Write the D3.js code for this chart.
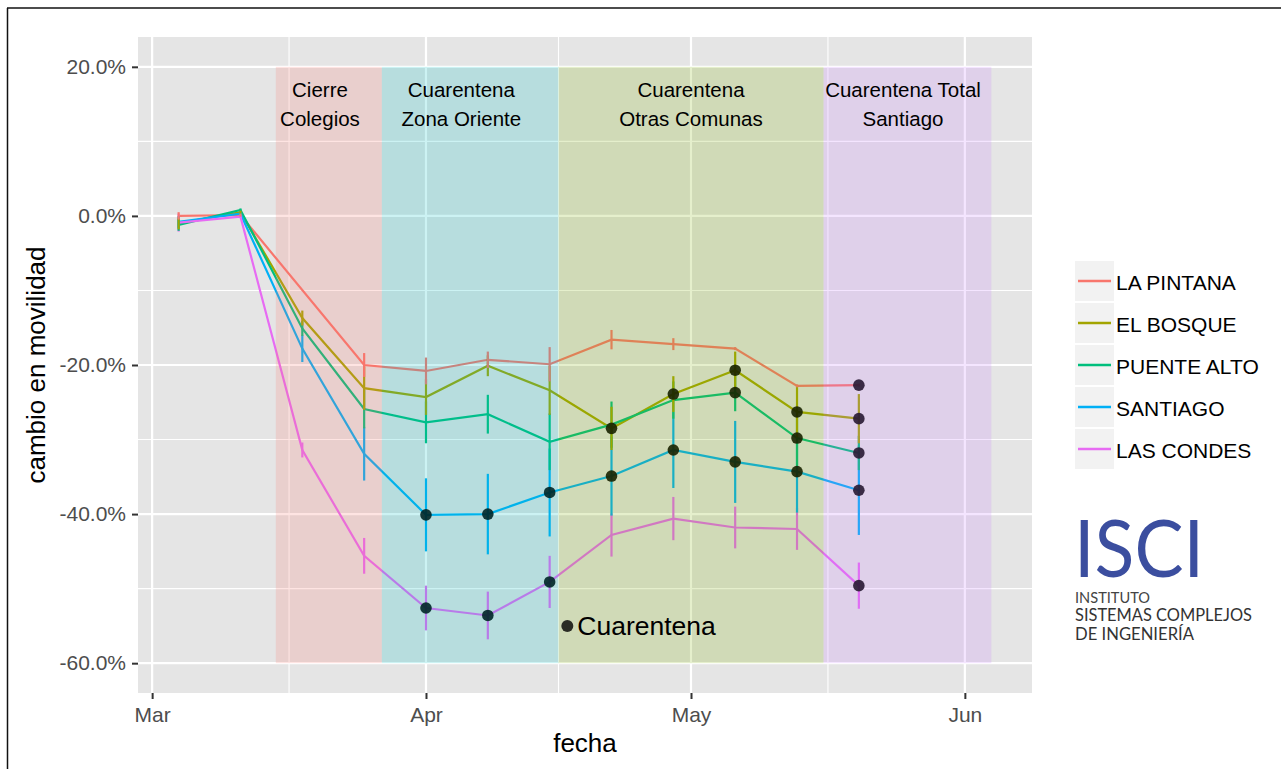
<!DOCTYPE html>
<html>
<head>
<meta charset="utf-8">
<script src="https://cdn.jsdelivr.net/npm/d3@7"></script>
<style>
    body { margin: 0; background: #fff; }
    svg { display: block; font-family: "Liberation Sans", Arial, Helvetica, sans-serif; }
</style>
</head>
<body>
<div id="chart"></div>
<script>
var fechas = ["2020-03-04", "2020-03-11", "2020-03-18", "2020-03-25", "2020-04-01", "2020-04-08",
    "2020-04-15", "2020-04-22", "2020-04-29", "2020-05-06", "2020-05-13", "2020-05-20"];

var comunas = ["LA PINTANA", "EL BOSQUE", "PUENTE ALTO", "SANTIAGO", "LAS CONDES"];
var colores = ["#F8766D", "#A3A500", "#00BF7D", "#00B0F6", "#E76BF3"];

// cambio en movilidad (%)
var laPintana  = [0.0, 0.1, null, -20.0, -20.8, -19.3, -19.9, -16.6, -17.2, -17.8, -22.8, -22.7];
var elBosque   = [-1.0, 0.5, -13.7, -23.1, -24.3, -20.1, -23.4, -28.5, -23.9, -20.7, -26.3, -27.2];
var puenteAlto = [-1.2, 0.8, -15.1, -25.9, -27.7, -26.6, -30.3, -28.0, -24.7, -23.7, -29.8, -31.8];
var santiago   = [-0.8, 0.3, -17.8, -31.9, -40.1, -40.0, -37.1, -34.9, -31.4, -33.0, -34.3, -36.8];
var lasCondes  = [-0.9, -0.1, -31.4, -45.6, -52.6, -53.6, -49.1, -42.8, -40.6, -41.8, -42.0, -49.6];

// error (+/-)
var errLaPintana  = [0.5, 0.2, null, 1.6, 1.8, 1.1, 2.3, 1.3, 0.8, 0.2, 0.2, 0.2];
var errElBosque   = [0.8, 0.2, 1.0, 2.9, 2.4, 1.4, 3.3, 2.9, 2.4, 2.5, 3.4, 3.3];
var errPuenteAlto = [0.8, 0.2, 1.0, 2.6, 2.8, 2.6, 3.8, 3.1, 2.5, 2.5, 3.8, 2.3];
var errSantiago   = [0.8, 0.2, 1.8, 3.6, 4.9, 5.4, 5.9, 5.3, 5.1, 5.5, 5.5, 6.0];
var errLasCondes  = [1.2, 0.2, 1.0, 2.4, 3.0, 3.2, 3.5, 2.9, 2.9, 2.8, 2.8, 3.1];

// 1 = comuna en cuarentena esa semana
var cuarLaPintana  = [0, 0, 0, 0, 0, 0, 0, 0, 0, 0, 0, 1];
var cuarElBosque   = [0, 0, 0, 0, 0, 0, 0, 1, 1, 1, 1, 1];
var cuarPuenteAlto = [0, 0, 0, 0, 0, 0, 0, 0, 0, 1, 1, 1];
var cuarSantiago   = [0, 0, 0, 0, 1, 1, 1, 1, 1, 1, 1, 1];
var cuarLasCondes  = [0, 0, 0, 0, 1, 1, 1, 0, 0, 0, 0, 1];

var periodoNombre = [["Cierre", "Colegios"], ["Cuarentena", "Zona Oriente"],
    ["Cuarentena", "Otras Comunas"], ["Cuarentena Total", "Santiago"]];
var periodoInicio = ["2020-03-15", "2020-03-27", "2020-04-16", "2020-05-16"];
var periodoFin = ["2020-03-27", "2020-04-16", "2020-05-16", "2020-06-04"];
var periodoEtiqueta = ["2020-03-20", "2020-04-05", "2020-05-01", "2020-05-25"];
var periodoColor = ["#F8766D", "#00BFC4", "#7CAE00", "#C77CFF"];
var periodoMin = -60,
    periodoMax = 20,
    etiquetaY = 14;

var notaFecha = "2020-04-17",
    notaValor = -55,
    notaTexto = "Cuarentena";

var valores = [laPintana, elBosque, puenteAlto, santiago, lasCondes];
var errores = [errLaPintana, errElBosque, errPuenteAlto, errSantiago, errLasCondes];
var cuarentenas = [cuarLaPintana, cuarElBosque, cuarPuenteAlto, cuarSantiago, cuarLasCondes];

var parseFecha = d3.timeParse("%Y-%m-%d");

var series = comunas.map(function(c, i) {
    return {
        nombre: c,
        color: colores[i],
        puntos: fechas.map(function(f, j) {
            return { fecha: parseFecha(f), valor: valores[i][j], err: errores[i][j], cuar: cuarentenas[i][j] };
        }).filter(function(p) { return p.valor != null; })
    };
});

var width = 1281,
    height = 769,
    panel = { left: 138, right: 1032, top: 37, bottom: 693 };

var fechasTodas = fechas.concat(periodoInicio, periodoFin).map(parseFecha);
var xMin = d3.min(fechasTodas), xMax = d3.max(fechasTodas);
var xPad = (xMax - xMin) * 0.05;

var x = d3.scaleTime()
    .domain([new Date(+xMin - xPad), new Date(+xMax + xPad)])
    .range([panel.left, panel.right]);

var yPad = (periodoMax - periodoMin) * 0.05;
var y = d3.scaleLinear()
    .domain([periodoMin - yPad, periodoMax + yPad])
    .range([panel.bottom, panel.top]);

var svg = d3.select("#chart")
    .append("svg")
    .attr("width", width)
    .attr("height", height);

// marco de la captura
svg.append("line").attr("x1", 7).attr("x2", width).attr("y1", 8).attr("y2", 8)
    .attr("stroke", "#111").attr("stroke-width", 1.5);
svg.append("line").attr("x1", 7.5).attr("x2", 7.5).attr("y1", 8).attr("y2", height)
    .attr("stroke", "#111").attr("stroke-width", 1.5);

svg.append("rect")
    .attr("x", panel.left)
    .attr("y", panel.top)
    .attr("width", panel.right - panel.left)
    .attr("height", panel.bottom - panel.top)
    .attr("fill", "#E5E5E5");

var xMajor = d3.timeMonth.range(x.domain()[0], x.domain()[1]);
var xMinor = d3.pairs(xMajor).map(function(p) { return new Date((+p[0] + +p[1]) / 2); });
var yMajor = y.ticks(5);
var yMinor = d3.pairs(yMajor).map(function(p) { return (p[0] + p[1]) / 2; });

var grid = svg.append("g");
grid.selectAll(".xminor").data(xMinor).enter().append("line")
    .attr("x1", function(d) { return x(d); }).attr("x2", function(d) { return x(d); })
    .attr("y1", panel.top).attr("y2", panel.bottom)
    .attr("stroke", "#fff").attr("stroke-width", 1.1);
grid.selectAll(".yminor").data(yMinor).enter().append("line")
    .attr("y1", function(d) { return y(d); }).attr("y2", function(d) { return y(d); })
    .attr("x1", panel.left).attr("x2", panel.right)
    .attr("stroke", "#fff").attr("stroke-width", 1.1);
grid.selectAll(".xmajor").data(xMajor).enter().append("line")
    .attr("x1", function(d) { return x(d); }).attr("x2", function(d) { return x(d); })
    .attr("y1", panel.top).attr("y2", panel.bottom)
    .attr("stroke", "#fff").attr("stroke-width", 2.2);
grid.selectAll(".ymajor").data(yMajor).enter().append("line")
    .attr("y1", function(d) { return y(d); }).attr("y2", function(d) { return y(d); })
    .attr("x1", panel.left).attr("x2", panel.right)
    .attr("stroke", "#fff").attr("stroke-width", 2.2);

var line = d3.line()
    .x(function(d) { return x(d.fecha); })
    .y(function(d) { return y(d.valor); });

svg.selectAll(".serie")
    .data(series)
    .enter()
    .append("path")
    .attr("d", function(d) { return line(d.puntos); })
    .attr("fill", "none")
    .attr("stroke", function(d) { return d.color; })
    .attr("stroke-width", 2.2);

// barras de error: la primera comuna queda encima
series.slice().reverse().forEach(function(s) {
    svg.append("g").selectAll("line")
        .data(s.puntos)
        .enter()
        .append("line")
        .attr("x1", function(d) { return x(d.fecha); })
        .attr("x2", function(d) { return x(d.fecha); })
        .attr("y1", function(d) { return y(d.valor + d.err); })
        .attr("y2", function(d) { return y(d.valor - d.err); })
        .attr("stroke", s.color)
        .attr("stroke-width", 2.2);
});

series.forEach(function(s) {
    svg.append("g").selectAll("circle")
        .data(s.puntos.filter(function(p) { return p.cuar == 1; }))
        .enter()
        .append("circle")
        .attr("cx", function(d) { return x(d.fecha); })
        .attr("cy", function(d) { return y(d.valor); })
        .attr("r", 5.8)
        .attr("fill", "#000")
        .attr("fill-opacity", 0.9);
});

svg.selectAll(".periodo")
    .data(periodoInicio)
    .enter()
    .append("rect")
    .attr("x", function(d) { return x(parseFecha(d)); })
    .attr("width", function(d, i) { return x(parseFecha(periodoFin[i])) - x(parseFecha(d)); })
    .attr("y", y(periodoMax))
    .attr("height", y(periodoMin) - y(periodoMax))
    .attr("fill", function(d, i) { return periodoColor[i]; })
    .attr("fill-opacity", 0.2);

periodoNombre.forEach(function(lineas, i) {
    svg.append("g").selectAll("text")
        .data(lineas)
        .enter()
        .append("text")
        .attr("x", x(parseFecha(periodoEtiqueta[i])))
        .attr("y", function(d, j) { return y(etiquetaY) + (j == 0 ? -14.5 : 14.5); })
        .attr("text-anchor", "middle")
        .attr("font-size", 20.5)
        .attr("fill", "#000")
        .text(function(d) { return d; });
});

svg.append("circle")
    .attr("cx", x(parseFecha(notaFecha)))
    .attr("cy", y(notaValor))
    .attr("r", 6)
    .attr("fill", "#000")
    .attr("fill-opacity", 0.8);
svg.append("text")
    .attr("x", x(parseFecha(notaFecha)) + 10)
    .attr("y", y(notaValor) + 9)
    .attr("font-size", 26.5)
    .attr("fill", "#000")
    .text(notaTexto);

// ejes
var xAxis = svg.append("g")
    .attr("transform", "translate(0," + panel.bottom + ")")
    .call(d3.axisBottom(x).tickValues(xMajor).tickFormat(d3.timeFormat("%b")).tickSize(6).tickPadding(8));
var yAxis = svg.append("g")
    .attr("transform", "translate(" + panel.left + ",0)")
    .call(d3.axisLeft(y).tickValues(yMajor).tickFormat(function(d) { return d.toFixed(1) + "%"; }).tickSize(6).tickPadding(6));

[xAxis, yAxis].forEach(function(a) {
    a.attr("font-family", null).attr("font-size", 21);
    a.select(".domain").remove();
    a.selectAll(".tick line").attr("stroke", "#333").attr("stroke-width", 2);
    a.selectAll(".tick text").attr("fill", "#4D4D4D");
});

svg.append("text")
    .attr("x", (panel.left + panel.right) / 2)
    .attr("y", 752)
    .attr("text-anchor", "middle")
    .attr("font-size", 26)
    .text("fecha");
svg.append("text")
    .attr("transform", "translate(45," + (panel.top + panel.bottom) / 2 + ") rotate(-90)")
    .attr("text-anchor", "middle")
    .attr("font-size", 26)
    .text("cambio en movilidad");

// leyenda
var legend = svg.append("g").attr("transform", "translate(1075,261)");
var item = legend.selectAll("g")
    .data(series)
    .enter()
    .append("g")
    .attr("transform", function(d, i) { return "translate(0," + i * 42 + ")"; });
item.append("rect")
    .attr("width", 39).attr("height", 40)
    .attr("fill", "#F2F2F2");
item.append("line")
    .attr("x1", 3).attr("x2", 36).attr("y1", 20).attr("y2", 20)
    .attr("stroke", function(d) { return d.color; })
    .attr("stroke-width", 2.5);
item.append("text")
    .attr("x", 41).attr("y", 28.5)
    .attr("font-size", 21)
    .attr("fill", "#000")
    .text(function(d) { return d.nombre; });

// logo
var logo = svg.append("g").attr("font-family", "Lato, 'Open Sans', sans-serif");
logo.append("text")
    .attr("x", 1074).attr("y", 577)
    .attr("font-size", 80)
    .attr("fill", "#3B4E9F")
    .attr("textLength", 130)
    .attr("lengthAdjust", "spacingAndGlyphs")
    .text("ISCI");
logo.append("text")
    .attr("x", 1075).attr("y", 603)
    .attr("font-size", 16)
    .attr("fill", "#444")
    .attr("textLength", 75).attr("lengthAdjust", "spacingAndGlyphs")
    .text("INSTITUTO");
logo.append("text")
    .attr("x", 1075).attr("y", 621)
    .attr("font-size", 17)
    .attr("fill", "#333")
    .attr("textLength", 177).attr("lengthAdjust", "spacingAndGlyphs")
    .text("SISTEMAS COMPLEJOS");
logo.append("text")
    .attr("x", 1075).attr("y", 640)
    .attr("font-size", 17)
    .attr("fill", "#333")
    .attr("textLength", 119).attr("lengthAdjust", "spacingAndGlyphs")
    .text("DE INGENIERÍA");
</script>
</body>
</html>
